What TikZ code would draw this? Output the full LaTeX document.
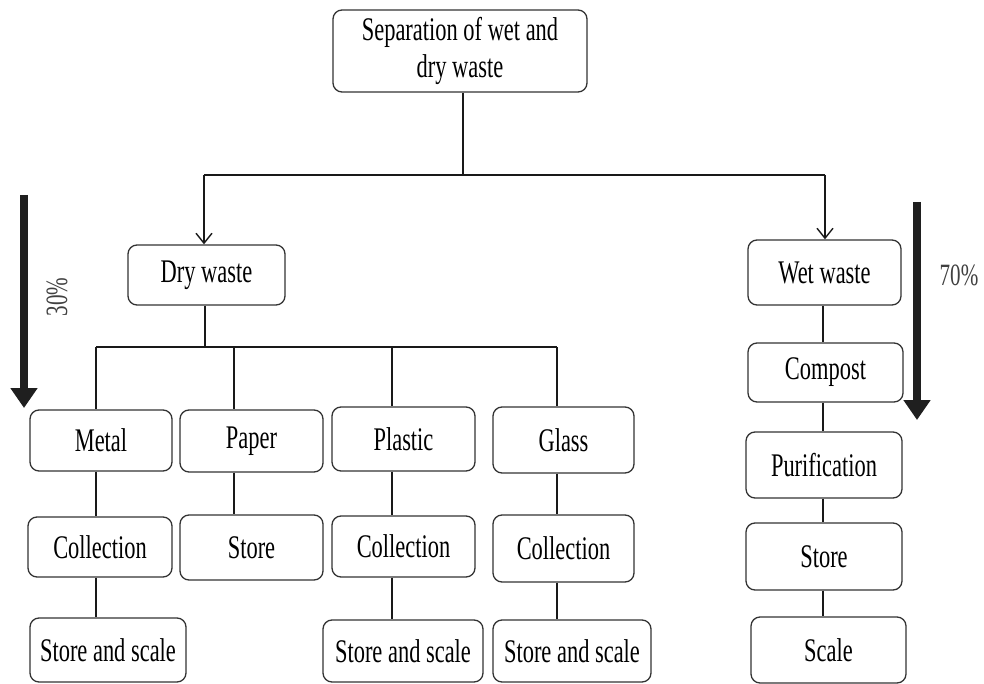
\documentclass[tikz,border=0pt]{standalone}
\usepackage{fontspec}
\setmainfont[FakeStretch=0.68]{Liberation Serif}
\usetikzlibrary{arrows.meta}
\begin{document}
\begin{tikzpicture}[x=1pt,y=-1pt,
  box/.style={draw=black!80, line width=1.3pt, rounded corners=9pt, fill=white,
    inner sep=0pt, font=\fontsize{33}{37}\selectfont, align=center},
  conn/.style={draw=black!90, line width=1.4pt},
  arr/.style={conn, -{Straight Barb[length=10pt,width=16pt,line width=1.4pt]}},
  bigarr/.style={draw=black!88, line width=8pt, -{Triangle[length=20pt,width=26pt]}},
  pct/.style={text=black!75, font=\fontsize{31}{34}\selectfont}]
\useasboundingbox (0,0) rectangle (984,684);
% top
\node[box, minimum width=254, minimum height=82] (top) at (460,51) {Separation of wet and\\dry waste};
\node[box, minimum width=157, minimum height=60] (dry) at (206.5,275) {Dry waste};
\node[box, minimum width=153, minimum height=65] (wet) at (824.5,272.5) {Wet waste};
\node[box, minimum width=155, minimum height=59] (compost) at (825.5,372.5) {Compost};
\node[box, minimum width=156, minimum height=66] (purif) at (824,465) {Purification};
\node[box, minimum width=156, minimum height=67] (wstore) at (824,556.5) {Store};
\node[box, minimum width=155, minimum height=66] (scale) at (828.5,650) {Scale};
\node[box, minimum width=142, minimum height=61] (metal) at (101,440.5) {Metal};
\node[box, minimum width=143, minimum height=62] (paper) at (251.5,441) {Paper};
\node[box, minimum width=143, minimum height=64] (plastic) at (403.5,439) {Plastic};
\node[box, minimum width=141, minimum height=66] (glass) at (563.5,440) {Glass};
\node[box, minimum width=144, minimum height=60] (mcoll) at (100,547) {Collection};
\node[box, minimum width=143, minimum height=65] (pstore) at (251.5,547.5) {Store};
\node[box, minimum width=143, minimum height=61] (plcoll) at (403.5,546.5) {Collection};
\node[box, minimum width=141, minimum height=67] (gcoll) at (563.5,548.5) {Collection};
\node[box, minimum width=156, minimum height=64] (msas) at (108,650) {Store and scale};
\node[box, minimum width=160, minimum height=62] (plsas) at (403,651) {Store and scale};
\node[box, minimum width=158, minimum height=62] (gsas) at (572,651) {Store and scale};
% junctions
\coordinate (tj) at (463,175);
\coordinate (tl) at (204,175);
\coordinate (tr) at (825,175);
\coordinate (dj) at (205,347);
\coordinate (mj) at (96,347);
\coordinate (pj) at (234,347);
\coordinate (plj) at (392,347);
\coordinate (gj) at (557,347);
\coordinate (wx) at (823,0);
% top branches
\draw[conn] (top.south -| tj) -- (tj);
\draw[conn] (tl) -- (tr);
\draw[arr] (tl) -- (dry.north -| tl);
\draw[arr] (tr) -- (wet.north -| tr);
% dry branches
\draw[conn] (dry.south -| dj) -- (dj);
\draw[conn] (mj) -- (gj);
\draw[conn] (mj) -- (metal.north -| mj);
\draw[conn] (pj) -- (paper.north -| pj);
\draw[conn] (plj) -- (plastic.north -| plj);
\draw[conn] (gj) -- (glass.north -| gj);
\draw[conn] (metal.south -| mj) -- (mcoll.north -| mj);
\draw[conn] (mcoll.south -| mj) -- (msas.north -| mj);
\draw[conn] (paper.south -| pj) -- (pstore.north -| pj);
\draw[conn] (plastic.south -| plj) -- (plcoll.north -| plj);
\draw[conn] (plcoll.south -| plj) -- (plsas.north -| plj);
\draw[conn] (glass.south -| gj) -- (gcoll.north -| gj);
\draw[conn] (gcoll.south -| gj) -- (gsas.north -| gj);
% wet chain
\draw[conn] (wet.south -| wx) -- (compost.north -| wx);
\draw[conn] (compost.south -| wx) -- (purif.north -| wx);
\draw[conn] (purif.south -| wx) -- (wstore.north -| wx);
\draw[conn] (wstore.south -| wx) -- (scale.north -| wx);
% big arrows
\coordinate (la1) at (24,195);
\coordinate (la2) at (24,408);
\coordinate (ra1) at (917,202);
\coordinate (ra2) at (917,420);
\draw[bigarr] (la1) -- (la2);
\draw[bigarr] (ra1) -- (ra2);
\node[pct, rotate=90] (p30) at (57,297) {30\%};
\node[pct] (p70) at (959,275) {70\%};
\end{tikzpicture}
\end{document}
